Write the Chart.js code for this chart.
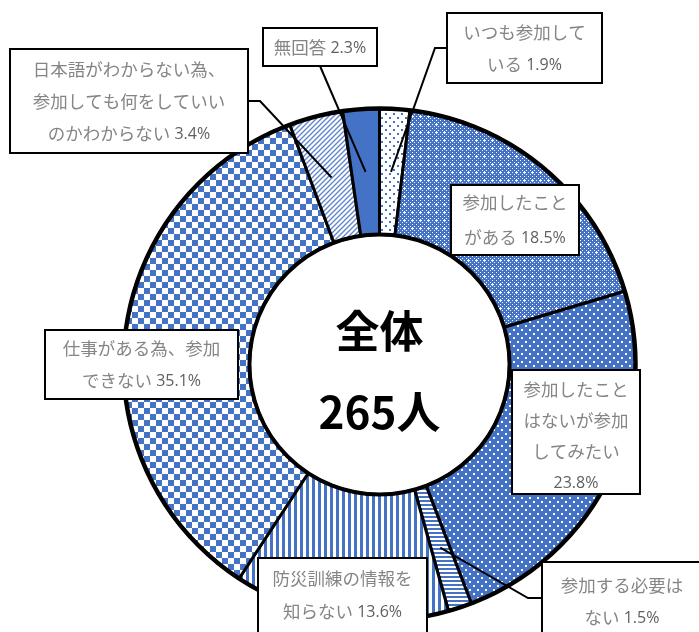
<!DOCTYPE html>
<html>
<head>
<meta charset="utf-8">
<script src="https://cdn.jsdelivr.net/npm/chart.js@4.4.0/dist/chart.umd.min.js"></script>
<style>
  body { margin: 0; background: #fff; }
</style>
</head>
<body>
<canvas id="graphe" width="699" height="632"></canvas>
<script>
// données
const categories = [
    'いつも参加している',
    '参加したことがある',
    '参加したことはないが参加してみたい',
    '参加する必要はない',
    '防災訓練の情報を知らない',
    '仕事がある為、参加できない',
    '日本語がわからない為、参加しても何をしていいのかわからない',
    '無回答'
];
const percents = [1.9, 18.5, 23.8, 1.5, 13.6, 35.1, 3.4, 2.3];
const centerTitle = '全体';
const centerCount = '265人';

// découpage des libellés comme sur l'image (la valeur est ajoutée à la dernière ligne)
const labelLines = [
    ['いつも参加して', 'いる'],
    ['参加したこと', 'がある'],
    ['参加したこと', 'はないが参加', 'してみたい', ''],
    ['参加する必要は', 'ない'],
    ['防災訓練の情報を', '知らない'],
    ['仕事がある為、参加', 'できない'],
    ['日本語がわからない為、', '参加しても何をしていい', 'のかわからない'],
    ['無回答']
];

// mise en page des étiquettes
const boxes = [
    {x: 447, y: 13, w: 155, h: 70, lh: 32},
    {x: 451, y: 185, w: 128, h: 70, lh: 35},
    {x: 512, y: 370, w: 128, h: 124, lh: 31, dy: 4},
    {x: 542, y: 562, w: 160, h: 90, lh: 32, dy: -6},
    {x: 258, y: 558, w: 169, h: 90, lh: 33, dy: -8},
    {x: 45, y: 330, w: 193, h: 69, lh: 32},
    {x: 10, y: 49, w: 238, h: 104, lh: 32},
    {x: 263, y: 28, w: 114, h: 38, lh: 32}
];
const leaders = [
    [[447, 48], [435, 48]],
    null, null,
    [[542, 598], [528, 598]],
    null, null,
    [[248, 101], [260, 101]],
    [[320, 66]]
];

const BLUE = '#4472C4';

function makePattern(size, draw) {
    const c = document.createElement('canvas');
    c.width = size;
    c.height = size;
    const g = c.getContext('2d');
    draw(g, size);
    return g.createPattern(c, 'repeat');
}

const patterns = [
    // petits points clairsemés
    makePattern(8, (g) => {
        g.fillStyle = '#fff'; g.fillRect(0, 0, 8, 8);
        g.fillStyle = BLUE; g.fillRect(1, 1, 2, 2); g.fillRect(5, 5, 2, 2);
    }),
    // trame bleue avec petites croix blanches
    makePattern(8, (g) => {
        g.fillStyle = BLUE; g.fillRect(0, 0, 8, 8);
        g.fillStyle = '#fff';
        g.fillRect(0, 0, 1, 1); g.fillRect(2, 2, 1, 1); g.fillRect(6, 2, 1, 1);
        g.fillRect(2, 6, 1, 1); g.fillRect(6, 6, 1, 1); g.fillRect(0, 4, 1, 1);
        g.fillRect(4, 0, 1, 1);
        g.fillRect(4, 3, 1, 3); g.fillRect(3, 4, 3, 1);
    }),
    // points blancs sur fond bleu
    makePattern(8, (g) => {
        g.fillStyle = BLUE; g.fillRect(0, 0, 8, 8);
        g.fillStyle = '#fff'; g.fillRect(1, 1, 2, 2); g.fillRect(5, 5, 2, 2);
    }),
    // rayures horizontales
    makePattern(4, (g) => {
        g.fillStyle = '#fff'; g.fillRect(0, 0, 4, 4);
        g.fillStyle = BLUE; g.fillRect(0, 0, 4, 2);
    }),
    // rayures verticales
    makePattern(6, (g) => {
        g.fillStyle = '#fff'; g.fillRect(0, 0, 6, 6);
        g.fillStyle = BLUE; g.fillRect(0, 0, 3, 6);
    }),
    // damier
    makePattern(12, (g) => {
        g.fillStyle = '#fff'; g.fillRect(0, 0, 12, 12);
        g.fillStyle = BLUE; g.fillRect(0, 0, 6, 6); g.fillRect(6, 6, 6, 6);
    }),
    // diagonales claires
    makePattern(5, (g, s) => {
        g.fillStyle = '#fff'; g.fillRect(0, 0, s, s);
        g.strokeStyle = 'rgba(68,114,196,0.85)'; g.lineWidth = 1.4;
        g.beginPath();
        g.moveTo(-1, s + 1); g.lineTo(s + 1, -1);
        g.moveTo(-1, 1); g.lineTo(1, -1);
        g.moveTo(s - 1, s + 1); g.lineTo(s + 1, s - 1);
        g.stroke();
    }),
    BLUE
];

function drawLine(ctx, text, value, cx, y) {
    const jp = '17.5px "Noto Sans CJK JP"';
    const num = '16px "Open Sans"';
    const numText = value === null ? '' : (text ? ' ' : '') + value;
    ctx.font = jp;
    const w1 = ctx.measureText(text).width;
    ctx.font = num;
    const w2 = ctx.measureText(numText).width;
    let x = cx - (w1 + w2) / 2;
    ctx.textAlign = 'left';
    ctx.textBaseline = 'middle';
    ctx.font = jp;
    ctx.fillStyle = '#858585';
    ctx.fillText(text, x, y);
    ctx.font = num;
    ctx.fillStyle = '#5f5f5f';
    ctx.fillText(numText, x + w1, y + 1);
}

const decor = {
    id: 'decor',
    afterDatasetsDraw(chart) {
        const ctx = chart.ctx;
        const arcs = chart.getDatasetMeta(0).data;
        const a0 = arcs[0];
        ctx.save();
        // anneaux extérieur et intérieur plus épais
        ctx.strokeStyle = '#000';
        ctx.lineWidth = 4.5;
        ctx.beginPath(); ctx.arc(a0.x, a0.y, a0.outerRadius, 0, Math.PI * 2); ctx.stroke();
        ctx.lineWidth = 4;
        ctx.beginPath(); ctx.arc(a0.x, a0.y, a0.innerRadius, 0, Math.PI * 2); ctx.stroke();

        // lignes de rappel
        ctx.lineWidth = 2;
        leaders.forEach((pts, i) => {
            if (!pts) return;
            const c = arcs[i].getCenterPoint();
            ctx.beginPath();
            ctx.moveTo(pts[0][0], pts[0][1]);
            for (let k = 1; k < pts.length; k++) ctx.lineTo(pts[k][0], pts[k][1]);
            ctx.lineTo(c.x, c.y);
            ctx.stroke();
        });

        // étiquettes
        boxes.forEach((b, i) => {
            ctx.fillStyle = '#fff';
            ctx.fillRect(b.x, b.y, b.w, b.h);
            ctx.strokeStyle = '#000';
            ctx.lineWidth = 2;
            ctx.strokeRect(b.x, b.y, b.w, b.h);
            const lines = labelLines[i];
            const n = lines.length;
            const cy = b.y + b.h / 2 + (b.dy || 0);
            lines.forEach((t, k) => {
                const y = cy + (k - (n - 1) / 2) * b.lh;
                const last = k === n - 1;
                drawLine(ctx, t, last ? percents[i].toFixed(1) + '%' : null, b.x + b.w / 2, y);
            });
        });

        // texte central
        ctx.fillStyle = '#000';
        ctx.textAlign = 'center';
        ctx.textBaseline = 'middle';
        ctx.font = 'bold 44px "Noto Sans CJK JP"';
        ctx.fillText(centerTitle, a0.x, a0.y - 33);
        ctx.fillText(centerCount, a0.x, a0.y + 48);
        ctx.restore();
    }
};

new Chart(document.getElementById('graphe').getContext('2d'), {
    type: 'doughnut',
    data: {
        labels: categories,
        datasets: [{
            data: percents,
            backgroundColor: patterns,
            borderColor: '#000',
            borderWidth: 3,
            hoverBorderWidth: 3,
            borderAlign: 'center'
        }]
    },
    options: {
        responsive: false,
        animation: false,
        cutout: '50.8%',
        layout: { padding: { top: 107, left: 122, right: 62, bottom: 10 } },
        plugins: {
            legend: { display: false },
            tooltip: { enabled: false }
        },
        events: []
    },
    plugins: [decor]
});
</script>
</body>
</html>
